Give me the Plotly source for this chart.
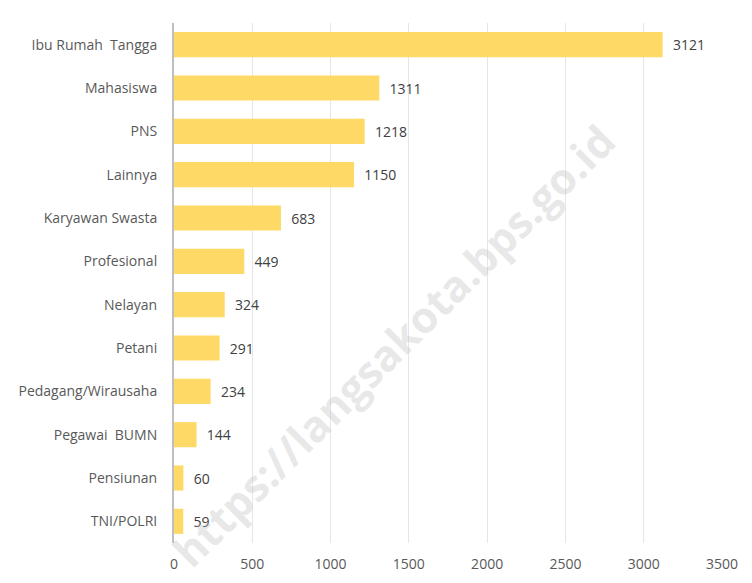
import plotly.graph_objects as go

# Jumlah menurut pekerjaan
categories = ["Ibu Rumah  Tangga", "Mahasiswa", "PNS", "Lainnya", "Karyawan Swasta",
              "Profesional", "Nelayan", "Petani", "Pedagang/Wirausaha",
              "Pegawai  BUMN", "Pensiunan", "TNI/POLRI"]
values = [3121, 1311, 1218, 1150, 683, 449, 324, 291, 234, 144, 60, 59]
x_ticks = [0, 500, 1000, 1500, 2000, 2500, 3000, 3500]

font_family = "Open Sans, Noto Sans, sans-serif"

fig = go.Figure(go.Bar(
    y=categories,
    x=values,
    orientation="h",
    marker=dict(color="#FFD966", line=dict(width=0)),
    text=["  " + str(v) for v in values],
    textposition="outside",
    textfont=dict(size=14, color="#404040", family=font_family),
    cliponaxis=False,
))

fig.update_layout(
    width=752,
    height=583,
    margin=dict(l=166, r=38, t=15, b=48),
    paper_bgcolor="white",
    plot_bgcolor="white",
    bargap=0.42,
    showlegend=False,
    font=dict(family=font_family, size=14, color="#595959"),
)

fig.update_xaxes(
    range=[0, 3500],
    tickvals=x_ticks,
    showgrid=True,
    gridcolor="#E6E6E6",
    gridwidth=1,
    zeroline=False,
    showline=False,
    ticks="",
    automargin=False,
    ticklabelstandoff=11,
    tickfont=dict(size=14, color="#595959"),
)
fig.update_yaxes(
    autorange="reversed",
    showline=True,
    linecolor="#BFBFBF",
    linewidth=2,
    ticks="",
    automargin=False,
    ticklabelstandoff=12,
    tickfont=dict(size=14, color="#595959"),
)

# watermark
fig.add_annotation(
    text="<b>https://langsakota.bps.go.id</b>",
    xref="paper", yref="paper",
    x=0.40, y=0.38,
    showarrow=False,
    textangle=-45,
    font=dict(size=43, color="rgba(190,190,190,0.35)", family=font_family),
)

fig.write_html("out.html")
